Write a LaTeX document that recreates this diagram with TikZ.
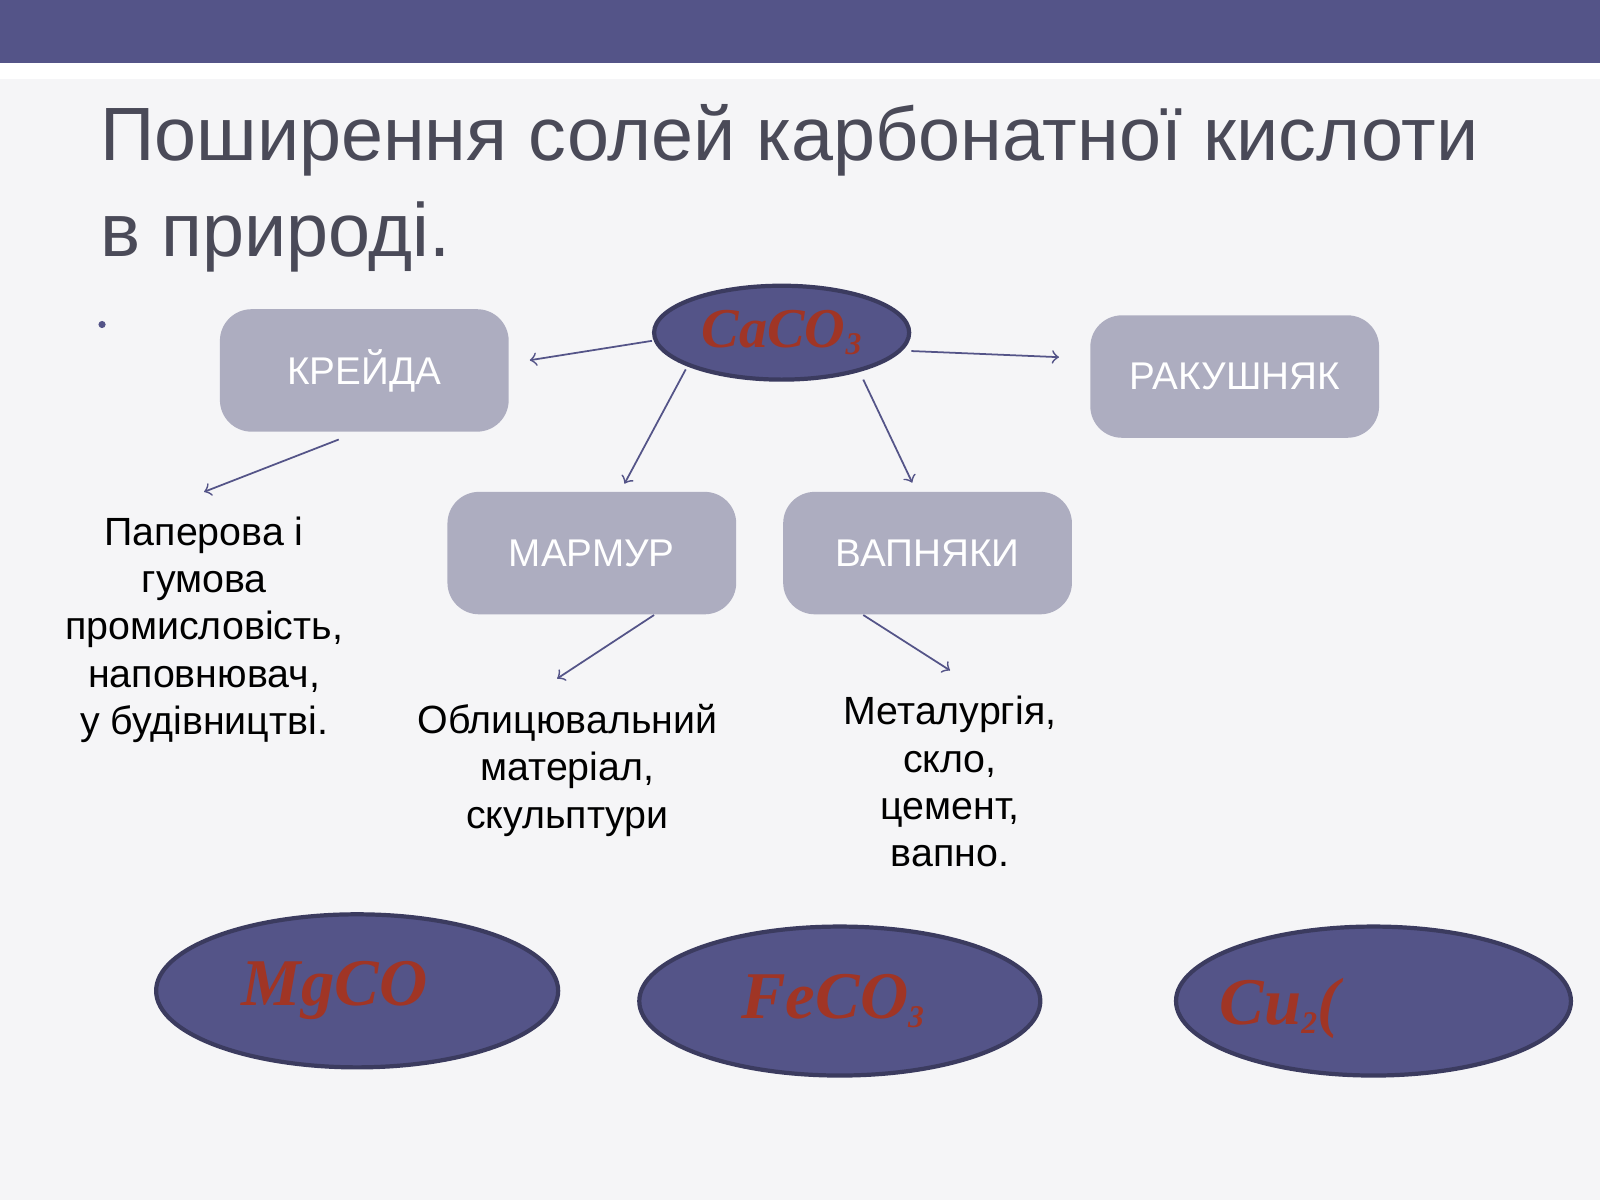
\documentclass[tikz,border=0pt]{standalone}
\usepackage{fontspec}
\setmainfont{Liberation Sans}
\newfontfamily\formfont{Liberation Serif}
\usepackage{tikz}
\usetikzlibrary{positioning,shapes.geometric}
\definecolor{slate}{HTML}{545488}
\definecolor{boxgrey}{HTML}{ADADC0}
\definecolor{paper}{HTML}{F5F5F7}
\definecolor{titlegrey}{HTML}{4A4A58}
\definecolor{saltred}{HTML}{A03525}
\newdimen\pxunit \pxunit=0.0102041cm
\tikzset{
  salt/.style={draw=slate!70!black, line width=1.2pt, fill=slate, shape=ellipse, inner sep=0pt},
  mineral/.style={fill=boxgrey, rounded corners=9pt, minimum width=283\pxunit, minimum height=120\pxunit, text=white, font=\fontsize{11}{13}\selectfont},
  use/.style={align=center, font=\fontsize{11.2}{13.5}\selectfont},
  formula/.style={text=saltred, font=\formfont\bfseries\itshape\fontsize{16}{18}\selectfont},
  bigformula/.style={formula, font=\formfont\bfseries\itshape\fontsize{19}{21}\selectfont},
  link/.style={->, slate, line width=0.5pt}
}
\begin{document}
\begin{tikzpicture}[x=0.0102041cm, y=-0.0102041cm]
\useasboundingbox (0,0) rectangle (1568,1176);
\fill[paper] (0,0) rectangle (1568,1176);
\fill[slate] (0,0) rectangle (1568,62);
\fill[white] (0,62) rectangle (1568,77);
\node[anchor=north west, align=left, text=titlegrey, font=\fontsize{21.5}{27.5}\selectfont] (title) at (86,90) {Поширення солей карбонатної кислоти\\в природі.};
\fill[slate] (100,318) circle (3.5);
% central salt and minerals
\node[salt, minimum width=250\pxunit, minimum height=92\pxunit] (caco) at (766,326) {};
\node[formula] at (caco) {CaCO\raisebox{-0.3ex}{\small 3}};
\node[mineral] (kreida) at (357,363) {КРЕЙДА};
\node[mineral] (rakush) at (1210,369) {РАКУШНЯК};
\node[mineral] (marmur) at (580,542) {МАРМУР};
\node[mineral] (vapno) at (909,542) {ВАПНЯКИ};
% uses
\node[use, anchor=north] (paper) at (200,494) {Паперова і\\гумова\\промисловість,\\наповнювач,\\у будівництві.};
\node[use, anchor=north] (oblic) at (556,678) {Облицювальний\\матеріал,\\скульптури};
\node[use, anchor=north] (metal) at (931,670) {Металургія,\\скло,\\цемент,\\вапно.};
% other salts
\node[salt, minimum width=394\pxunit, minimum height=150\pxunit] (mg) at (350,971) {};
\node[bigformula] at ([xshift=-22\pxunit]mg.center) {MgCO};
\node[salt, minimum width=393\pxunit, minimum height=146\pxunit] (fe) at (823,981) {};
\node[bigformula] at ([xshift=-7\pxunit]fe.center) {FeCO\raisebox{-0.3ex}{\small 3}};
\node[salt, minimum width=387\pxunit, minimum height=146\pxunit] (cu) at (1346,981) {};
\node[bigformula] at ([xshift=-92\pxunit,yshift=-7\pxunit]cu.center) {Cu\raisebox{-0.3ex}{\small 2}(};
% arrows
\draw[link] ([yshift=-8\pxunit]caco.west) -- ([xshift=20\pxunit,yshift=10\pxunit]kreida.east);
\draw[link] ([yshift=-18\pxunit]caco.east) -- ([xshift=-30\pxunit,yshift=19\pxunit]rakush.west);
\draw[link] ([xshift=-94\pxunit,yshift=-36\pxunit]caco.center) -- ([xshift=32\pxunit,yshift=68\pxunit]marmur.center);
\draw[link] ([xshift=80\pxunit,yshift=-46\pxunit]caco.center) -- ([xshift=-15\pxunit,yshift=69\pxunit]vapno.center);
\draw[link] ([xshift=-25\pxunit,yshift=-7\pxunit]kreida.south) -- ([yshift=12\pxunit]paper.north);
\draw[link] ([xshift=61\pxunit]marmur.south) -- ([xshift=-10\pxunit,yshift=13\pxunit]oblic.north);
\draw[link] ([xshift=-63\pxunit]vapno.south) -- ([yshift=13\pxunit]metal.north);
\end{tikzpicture}
\end{document}
